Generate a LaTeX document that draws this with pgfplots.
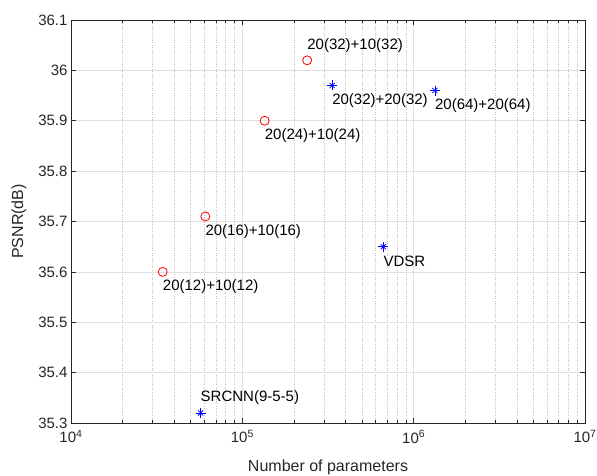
\documentclass[border=0pt]{standalone}
\usepackage{fontspec}
\setmainfont{Liberation Sans}
\usepackage{pgfplots}
\pgfplotsset{compat=1.18}
\definecolor{axgray}{gray}{0.15}
\definecolor{gridgray}{gray}{0.88}
\definecolor{mgridgray}{gray}{0.75}
\begin{document}
\begin{tikzpicture}
\begin{axis}[
  scale only axis, width=514bp, height=403bp,
  xmode=log, xmin=1e4, xmax=1e7, ymin=35.3, ymax=36.1,
  xtick={1e4,1e5,1e6,1e7},
  xticklabels={10\textsuperscript{4},10\textsuperscript{5},10\textsuperscript{6},10\textsuperscript{7}},
  ytick={35.3,35.4,35.5,35.6,35.7,35.8,35.9,36,36.1},
  yticklabels={35.3,35.4,35.5,35.6,35.7,35.8,35.9,36,36.1},
  tick align=inside,
  major tick length=5bp, minor tick length=3bp,
  axis line style={axgray, line width=0.6pt},
  every tick/.style={axgray, line width=0.6pt},
  xmajorgrids, ymajorgrids, xminorgrids,
  major grid style={gridgray, line width=0.6pt},
  minor grid style={mgridgray, dotted, line width=0.6pt},
  tick label style={font=\fontsize{15bp}{18bp}\selectfont, text=axgray},
  xticklabel style={yshift=-4bp},
  label style={font=\fontsize{16bp}{19bp}\selectfont, text=axgray},
  xlabel={Number of parameters}, ylabel={PSNR(dB)},
  xlabel style={at={(axis description cs:0.5,-0.11)}, anchor=center},
  ylabel style={at={(axis description cs:-0.1012,0.5)}, anchor=center},
  clip=false,
]
\addplot[only marks, mark=o, mark size=4.5bp, color=red, mark options={line width=0.8pt}]
  coordinates {(34300,35.60) (60800,35.71) (135000,35.90) (239000,36.02)};
\addplot[only marks, mark=+, mark size=5bp, color=blue, mark options={line width=0.8pt}]
  coordinates {(334000,35.97) (1330000,35.96) (665000,35.65) (57000,35.32)};
\addplot[only marks, mark=x, mark size=3.6bp, color=blue, mark options={line width=0.8pt}]
  coordinates {(334000,35.97) (1330000,35.96) (665000,35.65) (57000,35.32)};
\begin{scope}[every node/.style={anchor=west, inner sep=0pt, font=\fontsize{15bp}{18bp}\selectfont}]
\node at (axis cs:34300,35.57) {20(12)+10(12)};
\node at (axis cs:60800,35.68) {20(16)+10(16)};
\node at (axis cs:135000,35.87) {20(24)+10(24)};
\node at (axis cs:239000,36.05) {20(32)+10(32)};
\node at (axis cs:334000,35.94) {20(32)+20(32)};
\node at (axis cs:1330000,35.93) {20(64)+20(64)};
\node at (axis cs:665000,35.62) {VDSR};
\node at (axis cs:57000,35.35) {SRCNN(9-5-5)};
\end{scope}
\end{axis}
\pgfresetboundingbox
\path (current axis.south west) ++(-71bp,-53bp) rectangle ++(597bp,476bp);
\end{tikzpicture}
\end{document}
